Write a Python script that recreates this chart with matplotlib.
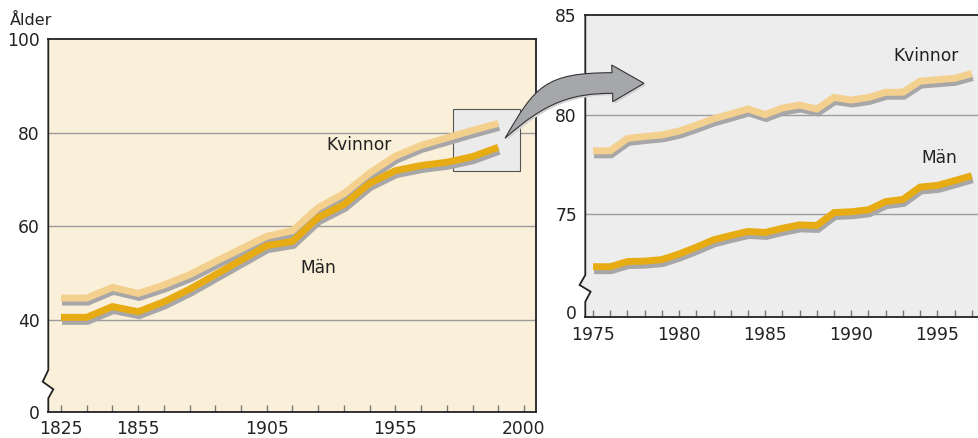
import matplotlib
matplotlib.use("Agg")
import matplotlib.pyplot as plt
import matplotlib.transforms as mtransforms
from matplotlib.patches import Polygon, Rectangle, PathPatch
from matplotlib.path import Path
from matplotlib.lines import Line2D

plt.rcParams['font.family'] = ['DejaVu Sans']

# ---------------- data ----------------
decades = [1825, 1835, 1845, 1855, 1865, 1875, 1885, 1895, 1905,
           1915, 1925, 1935, 1945, 1955, 1965, 1975, 1985, 1995]
women_hist = [44.7, 44.7, 47.0, 45.7, 47.5, 49.7, 52.5, 55.2, 57.9,
              59.1, 64.0, 67.0, 71.4, 75.0, 77.3, 78.9, 80.5, 82.0]
men_hist = [40.6, 40.6, 42.9, 41.8, 43.9, 46.6, 49.7, 52.8, 55.9,
            56.8, 61.9, 64.7, 69.2, 71.9, 73.0, 73.7, 74.9, 76.9]

years = list(range(1975, 1998))
women_recent = [78.18, 78.18, 78.80, 78.90, 78.98, 79.17, 79.47, 79.79,
                80.03, 80.28, 80.00, 80.33, 80.48, 80.28, 80.86, 80.73,
                80.86, 81.12, 81.12, 81.68, 81.75, 81.82, 82.06]
men_recent = [72.36, 72.36, 72.62, 72.64, 72.72, 73.00, 73.34, 73.71,
              73.93, 74.13, 74.08, 74.29, 74.46, 74.43, 75.08, 75.12,
              75.22, 75.63, 75.74, 76.36, 76.44, 76.68, 76.93]

left_xticks = list(range(1825, 2006, 10))
left_xlabel_map = {1825: '1825', 1855: '1855', 1905: '1905', 1955: '1955', 2005: '2000'}
left_yticks = [20.4, 40, 60, 80, 100]
left_ylabels = ['0', '40', '60', '80', '100']
left_grid = [40, 60, 80]

right_xticks = years
right_xlabel_map = {1975: '1975', 1980: '1980', 1985: '1985', 1990: '1990', 1995: '1995'}
right_yticks = [70.1, 75, 80, 85]
right_ylabels = ['0', '75', '80', '85']
right_grid = [75, 80]

series_names = ['Kvinnor', 'Män']

# ---------------- styling ----------------
W, H = 979, 438
FS = 12.3
C_WOMEN = '#F4D08E'
C_MEN = '#E7AC13'
C_SHADOW = '#A7A7AA'
C_SPINE = '#222222'
C_GRID = '#9C9C9C'

fig = plt.figure(figsize=(W / 100, H / 100), dpi=100)
PX = mtransforms.Affine2D().scale(1 / W, -1 / H).translate(0, 1) + fig.transFigure


def px_axes(x0, y0, x1, y1):
    return fig.add_axes([x0 / W, 1 - y1 / H, (x1 - x0) / W, (y1 - y0) / H])


def style_axis(ax, bg, zig, grid_vals, right_spine=True):
    ax.set_facecolor('none')
    for s in ['top', 'bottom', 'right']:
        ax.spines[s].set_color(C_SPINE)
        ax.spines[s].set_linewidth(1.3)
    ax.spines['left'].set_visible(False)
    if not right_spine:
        ax.spines['right'].set_visible(False)
    verts = [(0, 1), (1, 1), (1, 0), (0, 0)] + zig[::-1][1:-1]
    ax.add_patch(Polygon(verts, closed=True, transform=ax.transAxes,
                         facecolor=bg, edgecolor='none', zorder=-5,
                         clip_on=False))
    xs = [p[0] for p in zig]
    ys = [p[1] for p in zig]
    ax.add_line(Line2D(xs, ys, transform=ax.transAxes, color=C_SPINE,
                       lw=1.3, clip_on=False, zorder=5,
                       solid_joinstyle='miter'))
    for g in grid_vals:
        ax.axhline(g, color=C_GRID, lw=1.0, zorder=0.5)
    ax.tick_params(axis='y', length=0, pad=6, labelsize=FS, labelcolor='#222')
    ax.tick_params(axis='x', direction='in', length=5, width=1.0,
                   color='#777777', pad=5.5, labelsize=FS, labelcolor='#222')


def draw_series(ax, x, y, color):
    shadow = mtransforms.offset_copy(ax.transData, fig=fig, x=1, y=-4, units='dots')
    ax.plot(x, y, color=C_SHADOW, lw=5.0, transform=shadow, zorder=3,
            solid_capstyle='butt', solid_joinstyle='miter')
    ax.plot(x, y, color=color, lw=5.0, zorder=4,
            solid_capstyle='butt', solid_joinstyle='miter')


# ---------------- left chart ----------------
axL = px_axes(48.3, 39, 536, 412)
zigL = [(0, 1), (0, 0.1126), (-0.0115, 0.0812), (0.0103, 0.0609), (0, 0.0367), (0, 0)]
style_axis(axL, '#FAEFD9', zigL, left_grid)
axL.set_xlim(1820.06, 2009.67)
axL.set_ylim(20.4, 100)
axL.set_yticks(left_yticks)
axL.set_yticklabels(left_ylabels)
axL.set_xticks(left_xticks)
axL.set_xticklabels([left_xlabel_map.get(t, '') for t in left_xticks])

axL.add_patch(Rectangle((1977.5, 71.84), 26.0, 13.16, facecolor='#EBEBEB',
                        edgecolor='#555555', lw=0.8, zorder=1))
draw_series(axL, decades, women_hist, C_WOMEN)
draw_series(axL, decades, men_hist, C_MEN)
axL.text(1940.9, 77.4, series_names[0], fontsize=FS, ha='center', va='center', color='#222')
axL.text(1924.9, 51.15, series_names[1], fontsize=FS, ha='center', va='center', color='#222')

# ---------------- right chart ----------------
axR = px_axes(585.3, 15, 979, 316.7)
zigR = [(0, 1), (0, 0.1382), (-0.0145, 0.1051), (0.0135, 0.0829), (0, 0.0497), (0, 0)]
style_axis(axR, '#EDEDED', zigR, right_grid, right_spine=False)
axR.set_xlim(1974.55, 1997.42)
axR.set_ylim(69.85, 85)
axR.set_yticks(right_yticks)
axR.set_yticklabels(right_ylabels)
axR.set_xticks(right_xticks)
axR.set_xticklabels([right_xlabel_map.get(t, '') for t in right_xticks])
axR.tick_params(axis='x', pad=6.5)
draw_series(axR, years, women_recent, C_WOMEN)
draw_series(axR, years, men_recent, C_MEN)
axR.text(1994.35, 82.94, series_names[0], fontsize=FS, ha='center', va='center', color='#222')
axR.text(1995.1, 77.8, series_names[1], fontsize=FS, ha='center', va='center', color='#222')

# ---------------- curved arrow (decoration, pixel coordinates) ----------------
arrow_verts = [
    (505.0, 138.3),                                  # pointed tail
    (535.0, 86.3), (545.0, 72.7), (612.0, 72.7),     # upper edge
    (611.7, 65.0),                                   # head top
    (644.0, 83.3),                                   # tip
    (612.7, 101.7),                                  # head bottom
    (612.7, 93.3),
    (572.7, 93.3), (545.9, 101.5), (505.0, 138.3),   # lower edge back to tail
    (505.0, 138.3),
]
arrow_codes = [Path.MOVETO,
               Path.CURVE4, Path.CURVE4, Path.CURVE4,
               Path.LINETO, Path.LINETO, Path.LINETO, Path.LINETO,
               Path.CURVE4, Path.CURVE4, Path.CURVE4,
               Path.CLOSEPOLY]
arrow_path = Path(arrow_verts, arrow_codes)
shadow_tr = mtransforms.Affine2D().translate(2, 2) + PX
fig.patches.append(PathPatch(arrow_path, transform=shadow_tr, facecolor='#D2D2D2',
                             edgecolor='none', zorder=6))
fig.patches.append(PathPatch(arrow_path, transform=PX, facecolor='#A6A7AA',
                             edgecolor='#333333', lw=0.8, joinstyle='miter', zorder=7))

# ---------------- texts ----------------
fig.text(10 / W, 1 - 25 / H, 'Ålder', fontsize=11.5, va='baseline', ha='left', color='#222')

fig.savefig('out.png', dpi=100)
